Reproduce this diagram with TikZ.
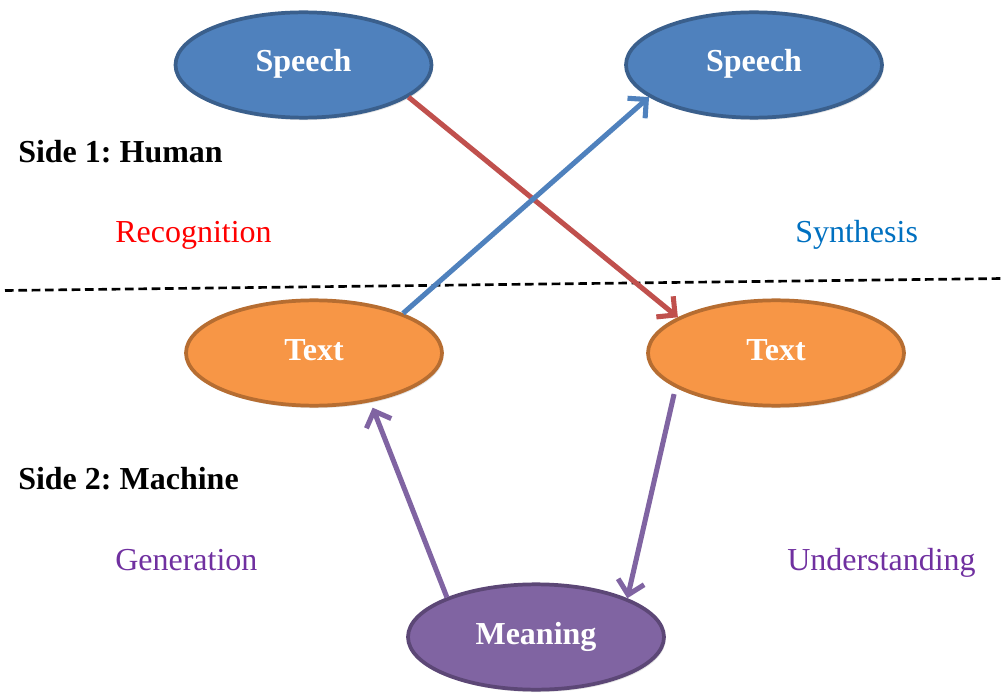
\documentclass[tikz,border=0pt]{standalone}
\usepackage{fontspec}
\setmainfont{Liberation Serif}
\usetikzlibrary{arrows.meta,shapes.geometric,shadows}

\definecolor{blueFill}{HTML}{4F81BD}
\definecolor{blueLine}{HTML}{3A5F8C}
\definecolor{orangeFill}{HTML}{F79646}
\definecolor{orangeLine}{HTML}{B66D31}
\definecolor{purpleFill}{HTML}{8064A2}
\definecolor{purpleLine}{HTML}{5C4776}
\definecolor{redArrow}{HTML}{C0504D}
\definecolor{blueArrow}{HTML}{4F81BD}
\definecolor{purpleArrow}{HTML}{8064A2}
\definecolor{synthText}{HTML}{0070C0}
\definecolor{machText}{HTML}{7030A0}

\begin{document}
\frenchspacing
\begin{tikzpicture}[
  x=0.75pt, y=-0.75pt,
  font=\fontsize{24}{28}\selectfont,
  bubble/.style={ellipse, minimum width=192pt, minimum height=79pt,
    inner sep=0pt, line width=2.8pt, text=white,
    font=\fontsize{24}{28}\selectfont\bfseries,
    text height=10.5pt, text depth=0pt,
    drop shadow={opacity=0.22, shadow xshift=1.2pt, shadow yshift=-1.8pt}},
  speechbubble/.style={bubble, fill=blueFill, draw=blueLine},
  textbubble/.style={bubble, fill=orangeFill, draw=orangeLine},
  meaningbubble/.style={bubble, fill=purpleFill, draw=purpleLine},
  label/.style={anchor=base west, inner sep=0pt},
  conn/.style={line width=3.8pt, -{Straight Barb[length=10pt, width=20pt, line width=3.8pt]}},
  divider/.style={line width=2pt, dash pattern=on 6.5pt off 3.5pt}
]
\useasboundingbox (0,0) rectangle (1003,695);

% the two sides of the diagram
\coordinate (dl) at (5,290.5);
\coordinate (dr) at (1003,278.5);
\draw[divider] (dl) -- (dr);

% ellipses
\node[speechbubble]  (sl) at (303.5,65) {Speech};
\node[speechbubble]  (sr) at (754,65)   {Speech};
\node[textbubble]    (tl) at (314,353)  {Text};
\node[textbubble]    (tr) at (776,353)  {Text};
\node[meaningbubble] (m)  at (536,637)  {Meaning};

% side titles and process labels
\node[label, font=\fontsize{24}{28}\selectfont\bfseries] (side1) at (18,163) {Side 1: Human};
\node[label, font=\fontsize{24}{28}\selectfont\bfseries] (side2) at (18,489) {Side 2: Machine};
\node[label, text=red]       (rec)  at (115,243) {Recognition};
\node[label, text=synthText] (syn)  at (795,243) {Synthesis};
\node[label, text=machText]  (gen)  at (115,570) {Generation};
\node[label, text=machText]  (und)  at (787,570) {Understanding};

% connectors
\draw[conn, redArrow]  (sl.-17.6) -- (tr.160.8);
\draw[conn, blueArrow] (tl.24.5)  -- (sr.197.5);
\draw[conn, purpleArrow, shorten >=4.5pt] (m.156.9) -- (tl.-41.4);
\draw[conn, purpleArrow, shorten <=5pt]   (tr.199.7) -- (m.23.7);
\end{tikzpicture}
\end{document}
